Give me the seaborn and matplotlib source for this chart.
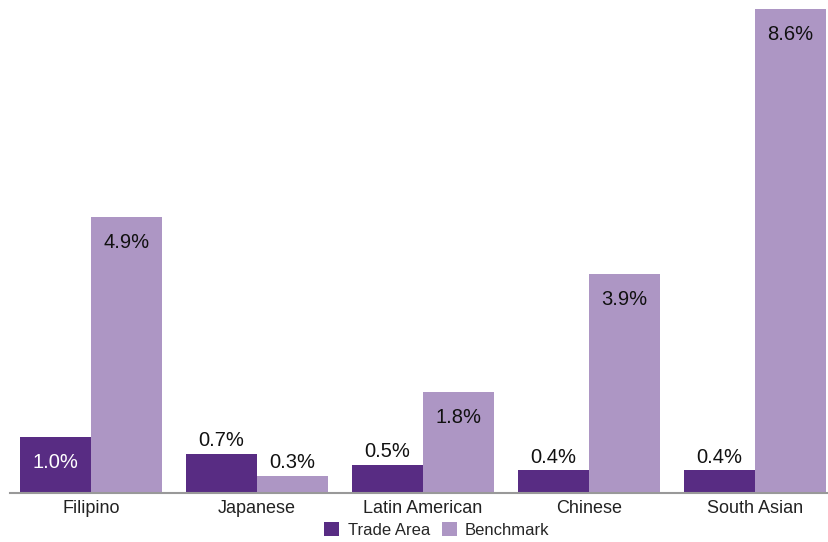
import matplotlib
matplotlib.use("Agg")
import matplotlib.pyplot as plt
import seaborn as sns
import pandas as pd

categories = ["Filipino", "Japanese", "Latin American", "Chinese", "South Asian"]
trade_area = [1.0, 0.7, 0.5, 0.4, 0.4]
benchmark = [4.9, 0.3, 1.8, 3.9, 8.6]
series_names = ["Trade Area", "Benchmark"]

df = pd.DataFrame({
    "cat": categories * 2,
    "val": trade_area + benchmark,
    "series": [series_names[0]] * len(categories) + [series_names[1]] * len(categories),
})

sns.set_theme(style="white")
plt.rcParams["font.family"] = ["Liberation Sans", "DejaVu Sans"]

colors = {"Trade Area": "#582C83", "Benchmark": "#AD96C4"}

fig = plt.figure(figsize=(8.29, 5.42), dpi=100)
ax = fig.add_axes([10 / 829, 49 / 542, 819 / 829, 493 / 542])

sns.barplot(data=df, x="cat", y="val", hue="series", palette=colors,
            width=0.855, gap=0, saturation=1, ax=ax, legend=True, errorbar=None,
            linewidth=0, edgecolor="none")

ax.set_xlim((10 - 91) / 166, (829 - 91) / 166)
ax.set_ylim(0, 8.76)
ax.set_xlabel("")
ax.set_ylabel("")
ax.set_yticks([])
ax.tick_params(axis="x", length=0, labelsize=13, colors="#222222", pad=5)
for s in ["top", "right", "left"]:
    ax.spines[s].set_visible(False)
ax.spines["bottom"].set_color("#999999")
ax.spines["bottom"].set_linewidth(1.5)

for ci, cont in enumerate(ax.containers):
    vals = trade_area if ci == 0 else benchmark
    for bar, v in zip(cont.patches, vals):
        x = bar.get_x() + bar.get_width() / 2
        h = bar.get_height()
        if v >= 1.0:
            col = "white" if ci == 0 else "#111111"
            ax.annotate(f"{v:.1f}%", (x, h), xytext=(0, -18.5), textcoords="offset points",
                        ha="center", va="center", fontsize=14.5, color=col)
        else:
            ax.annotate(f"{v:.1f}%", (x, h), xytext=(0, 9.5), textcoords="offset points",
                        ha="center", va="center", fontsize=14.5, color="#111111")

leg = ax.get_legend()
handles = leg.legend_handles
leg.remove()
fig.legend(handles, series_names, loc="center", bbox_to_anchor=(437 / 829, 1 - 530 / 542),
           ncol=2, frameon=False, fontsize=12, handlelength=0.9, handleheight=0.9,
           handletextpad=0.5, columnspacing=0.7, borderaxespad=0, borderpad=0)

fig.savefig("out.png", dpi=100)
